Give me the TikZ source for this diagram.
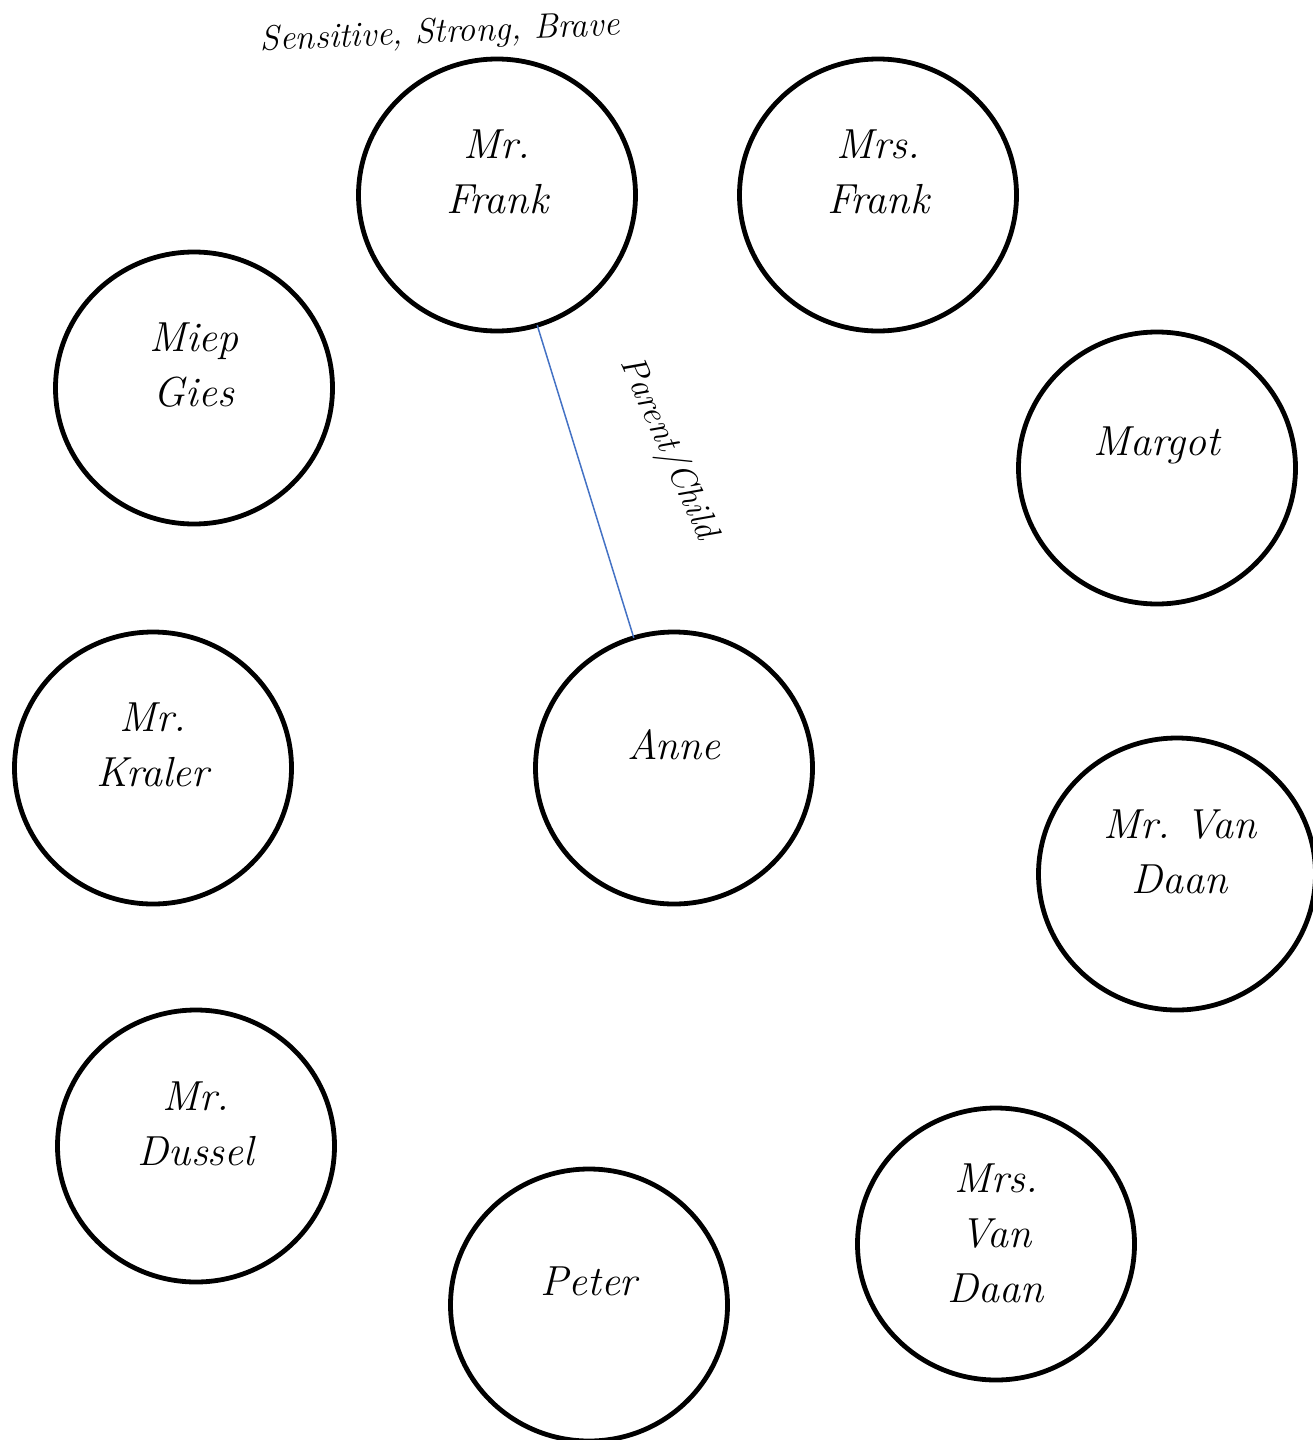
\documentclass[tikz,border=0pt]{standalone}
\usetikzlibrary{shapes.geometric}
\definecolor{linkblue}{HTML}{4472C4}
\begin{document}
\frenchspacing
\begin{tikzpicture}[x=1pt,y=-1pt,
  person/.style={ellipse,draw=black,line width=4.8pt,inner sep=0pt,outer sep=0pt,minimum width=277pt,minimum height=272pt},
  nametext/.style={align=center,font=\fontsize{42}{55}\selectfont\itshape},
  smalltext/.style={font=\fontsize{35}{40}\selectfont\itshape},
  linkline/.style={draw=linkblue,line width=1.5pt}]
\useasboundingbox (0,0) rectangle (1313,1440);
\node[person] (frank) at (497,195) {};
\node[person] (mrsfrank) at (878,195) {};
\node[person] (miep) at (194,388) {};
\node[person] (margot) at (1157,468) {};
\node[person] (kraler) at (153,768) {};
\node[person] (anne) at (674,768) {};
\node[person] (vandaan) at (1177,874) {};
\node[person] (dussel) at (196,1146) {};
\node[person] (peter) at (589,1305) {};
\node[person] (mrsvd) at (996,1244) {};

\node[nametext] (tfrank) at (497,172) {Mr.\\Frank};
\node[nametext] (tmrsfrank) at (878,172) {Mrs.\\Frank};
\node[nametext] (tmiep) at (194,365) {Miep\\Gies};
\node[nametext] (tmargot) at (1157,445) {Margot};
\node[nametext] (tkraler) at (153,745) {Mr.\\Kraler};
\node[nametext] (tanne) at (674,745) {Anne};
\node[nametext] (tvandaan) at (1180,852) {Mr.\ Van\\Daan};
\node[nametext] (tdussel) at (196,1124) {Mr.\\Dussel};
\node[nametext] (tpeter) at (589,1281) {Peter};
\node[nametext] (tmrsvd) at (996,1233) {Mrs.\\Van\\Daan};

\node[smalltext,rotate=2.5] (traits) at (440,34) {Sensitive, Strong, Brave};
\draw[linkline] (frank) -- (anne);
\node[smalltext,rotate=-66] (rel) at (668,448) {Parent/Child};
\end{tikzpicture}
\end{document}
